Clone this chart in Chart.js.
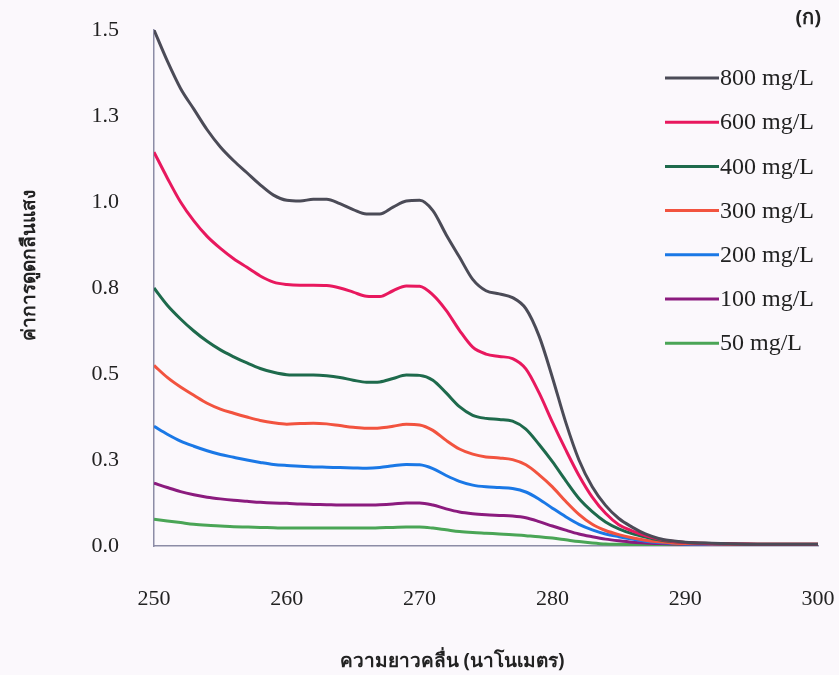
<!DOCTYPE html>
<html>
<head>
<meta charset="utf-8">
<script src="https://cdn.jsdelivr.net/npm/chart.js@4"></script>
<style>
  html, body { margin: 0; padding: 0; background: #fbf8fc; }
  #wrap { width: 839px; height: 675px; position: relative; }
</style>
</head>
<body>
<div id="wrap"><canvas id="absChart" width="839" height="675"></canvas></div>
<script>
// wavelengths (nm)
const wavelengths = [250, 251, 252, 253, 254, 255, 256, 257, 258, 259, 260, 261, 262, 263, 264, 265, 266, 267, 268, 269,
  270, 271, 272, 273, 274, 275, 276, 277, 278, 279, 280, 281, 282, 283, 284, 285, 286, 287, 288, 289, 290, 292, 294, 296, 298, 300];

const abs800 = [1.50, 1.41, 1.33, 1.27, 1.21, 1.16, 1.12, 1.085, 1.05, 1.02, 1.005, 1.003, 1.008, 1.008, 0.995, 0.978, 0.965, 0.965, 0.985, 1.003,
  1.005, 0.975, 0.905, 0.84, 0.775, 0.742, 0.733, 0.722, 0.69, 0.61, 0.49, 0.36, 0.25, 0.172, 0.118, 0.08, 0.055, 0.035, 0.022, 0.015, 0.011, 0.008, 0.006, 0.005, 0.005, 0.005];
const abs600 = [1.145, 1.07, 1.0, 0.945, 0.9, 0.865, 0.835, 0.81, 0.785, 0.767, 0.76, 0.758, 0.758, 0.757, 0.75, 0.738, 0.726, 0.725, 0.742, 0.756,
  0.755, 0.73, 0.685, 0.627, 0.578, 0.558, 0.551, 0.545, 0.515, 0.445, 0.36, 0.28, 0.205, 0.142, 0.095, 0.062, 0.044, 0.03, 0.02, 0.014, 0.01, 0.007, 0.006, 0.005, 0.005, 0.005];
const abs400 = [0.75, 0.70, 0.66, 0.625, 0.595, 0.57, 0.55, 0.532, 0.516, 0.505, 0.498, 0.497, 0.497, 0.495, 0.49, 0.482, 0.476, 0.477, 0.487, 0.497,
  0.496, 0.482, 0.445, 0.405, 0.38, 0.371, 0.368, 0.363, 0.34, 0.295, 0.245, 0.19, 0.138, 0.1, 0.07, 0.05, 0.036, 0.026, 0.018, 0.013, 0.01, 0.007, 0.006, 0.005, 0.005, 0.005];
const abs300 = [0.525, 0.49, 0.462, 0.438, 0.415, 0.398, 0.386, 0.375, 0.365, 0.358, 0.354, 0.356, 0.357, 0.355, 0.35, 0.345, 0.342, 0.343, 0.348, 0.354,
  0.352, 0.336, 0.307, 0.282, 0.267, 0.259, 0.256, 0.251, 0.236, 0.207, 0.172, 0.13, 0.092, 0.063, 0.045, 0.033, 0.024, 0.017, 0.012, 0.009, 0.007, 0.006, 0.005, 0.005, 0.005, 0.005];
const abs200 = [0.348, 0.325, 0.305, 0.29, 0.277, 0.266, 0.258, 0.25, 0.243, 0.237, 0.234, 0.232, 0.23, 0.229, 0.228, 0.227, 0.226, 0.228, 0.233, 0.237,
  0.236, 0.225, 0.205, 0.188, 0.177, 0.172, 0.17, 0.167, 0.157, 0.136, 0.11, 0.085, 0.063, 0.047, 0.035, 0.027, 0.02, 0.014, 0.01, 0.008, 0.006, 0.005, 0.005, 0.004, 0.004, 0.004];
const abs100 = [0.183, 0.17, 0.158, 0.149, 0.142, 0.137, 0.133, 0.13, 0.127, 0.125, 0.124, 0.122, 0.121, 0.12, 0.119, 0.119, 0.119, 0.12, 0.122, 0.125,
  0.125, 0.119, 0.108, 0.099, 0.094, 0.091, 0.089, 0.087, 0.082, 0.071, 0.058, 0.046, 0.035, 0.027, 0.02, 0.015, 0.011, 0.009, 0.007, 0.006, 0.005, 0.004, 0.004, 0.004, 0.004, 0.004];
const abs50 = [0.078, 0.073, 0.068, 0.063, 0.06, 0.058, 0.056, 0.055, 0.054, 0.053, 0.052, 0.052, 0.052, 0.052, 0.052, 0.052, 0.052, 0.053, 0.054, 0.055,
  0.055, 0.052, 0.047, 0.042, 0.039, 0.037, 0.035, 0.033, 0.03, 0.027, 0.023, 0.018, 0.013, 0.009, 0.006, 0.005, 0.004, 0.003, 0.003, 0.003, 0.003, 0.003, 0.003, 0.003, 0.003, 0.003];

const seriesLabels = ["800 mg/L", "600 mg/L", "400 mg/L", "300 mg/L", "200 mg/L", "100 mg/L", "50 mg/L"];
const seriesValues = [abs800, abs600, abs400, abs300, abs200, abs100, abs50];
const seriesColors = ["#4b4b57", "#e8185e", "#1e6a4c", "#f2533f", "#1a78e6", "#8b1b7e", "#4aa556"];

const yTicks = [0, 0.25, 0.5, 0.75, 1.0, 1.25, 1.5];
const xTicks = [250, 260, 270, 280, 290, 300];

const numFont = "'Liberation Serif', 'Times New Roman', serif";
const thaiFont = "'Noto Sans', 'DejaVu Sans', sans-serif";
const axisColor = "#8c8ca6";

const datasets = seriesValues.map((vals, i) => ({
  label: seriesLabels[i],
  data: vals.map((v, j) => ({ x: wavelengths[j], y: v })),
  borderColor: seriesColors[i],
  borderWidth: 3,
  pointRadius: 0,
  cubicInterpolationMode: "monotone",
  fill: false
}));

// legend, panel label and axis titles drawn by hand
const extras = {
  id: "extras",
  afterDraw(chart) {
    const ctx = chart.ctx;
    ctx.save();
    ctx.textBaseline = "middle";
    chart.data.datasets.forEach((ds, i) => {
      const y = 78 + i * 44.2;
      ctx.strokeStyle = ds.borderColor;
      ctx.lineWidth = 3;
      ctx.beginPath();
      ctx.moveTo(665, y);
      ctx.lineTo(719, y);
      ctx.stroke();
      ctx.fillStyle = "#222";
      ctx.font = "24px " + numFont;
      ctx.textAlign = "left";
      ctx.fillText(ds.label, 720, y + 1);
    });

    ctx.font = "bold 20px " + thaiFont;
    ctx.fillStyle = "#222";
    ctx.textAlign = "right";
    ctx.fillText("(ก)", 821, 18);

    ctx.font = "bold 19px " + thaiFont;
    ctx.textAlign = "center";
    ctx.fillText("ความยาวคลื่น (นาโนเมตร)", 452, 662);

    ctx.translate(30, 265);
    ctx.rotate(-Math.PI / 2);
    ctx.fillText("ค่าการดูดกลืนแสง", 0, 0);
    ctx.restore();
  }
};

new Chart(document.getElementById("absChart"), {
  type: "line",
  data: { datasets },
  options: {
    responsive: false,
    animation: false,
    layout: { padding: { top: 30, right: 21, left: 0, bottom: 0 } },
    plugins: { legend: { display: false }, tooltip: { enabled: false } },
    scales: {
      x: {
        type: "linear",
        min: 250,
        max: 300,
        afterBuildTicks: s => { s.ticks = xTicks.map(v => ({ value: v })); },
        afterFit: s => { s.height = 129; s.paddingLeft = 0; s.paddingRight = 0; },
        border: { display: true, color: axisColor, width: 1.5 },
        grid: { display: false, drawOnChartArea: false, drawTicks: true, tickLength: 8, color: axisColor },
        ticks: { color: "#222", font: { family: numFont, size: 22 }, padding: 32, maxRotation: 0 }
      },
      y: {
        min: 0,
        max: 1.5,
        afterBuildTicks: s => { s.ticks = yTicks.map(v => ({ value: v })); },
        afterFit: s => { s.width = 154; s.paddingTop = 0; s.paddingBottom = 0; },
        border: { display: true, color: axisColor, width: 1.5 },
        grid: { display: false, drawOnChartArea: false, drawTicks: true, tickLength: 7, color: axisColor },
        ticks: { color: "#222", font: { family: numFont, size: 22 }, padding: 28, callback: v => v.toFixed(1) }
      }
    }
  },
  plugins: [extras]
});
</script>
</body>
</html>
